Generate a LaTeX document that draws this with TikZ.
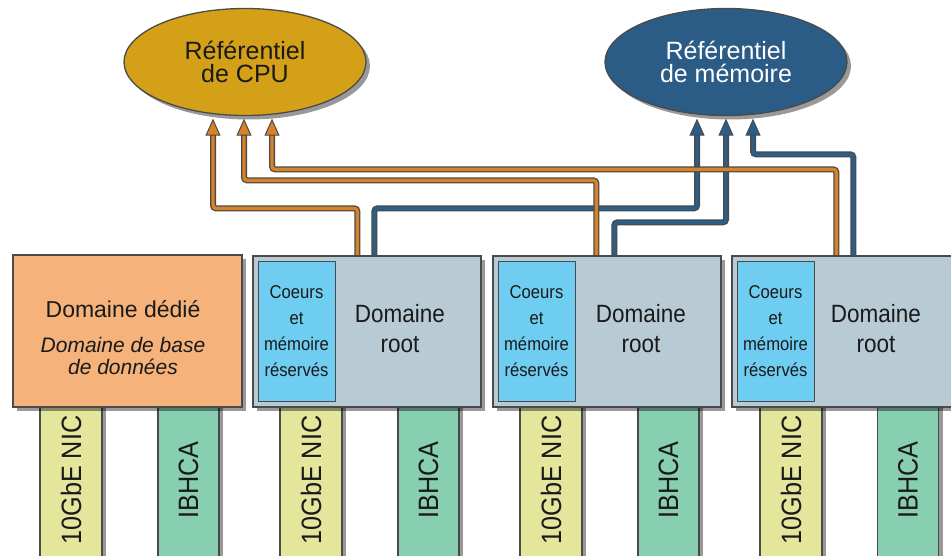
\documentclass[tikz,border=0pt]{standalone}
\usepackage{fontspec}
\setmainfont{Liberation Sans}
\newfontfamily\nfont[FakeStretch=0.9]{Liberation Sans}
\newfontfamily\wfont[FakeStretch=1.0]{Liberation Sans}
\usetikzlibrary{shapes.geometric,shadows,arrows.meta}
\definecolor{cpucol}{HTML}{D4A017}
\definecolor{memcol}{HTML}{2A5C86}
\definecolor{dedcol}{HTML}{F5B27A}
\definecolor{rootcol}{HTML}{B8CAD4}
\definecolor{innercol}{HTML}{6FCDF2}
\definecolor{niccol}{HTML}{E3E69B}
\definecolor{ibcol}{HTML}{88CFB1}
\definecolor{ocol}{HTML}{D88227}
\definecolor{bcol}{HTML}{2A5F8A}
\definecolor{edge}{HTML}{4A4A4A}
\definecolor{ink}{HTML}{1A1A1A}
\pgfdeclarelayer{bg}
\pgfsetlayers{bg,main}
\begin{document}
\begin{tikzpicture}[x=1pt,y=-1pt,text=ink,
  shad/.style={drop shadow={shadow xshift=4pt,shadow yshift=-4pt,fill=black,opacity=0.4}},
  refnode/.style={ellipse,draw=edge,line width=1.3pt,minimum width=242pt,minimum height=107pt,inner sep=0pt,align=center,font=\wfont\fontsize{25}{23}\selectfont,shad},
  boxnode/.style={rectangle,draw=edge,line width=1.3pt,minimum width=228pt,minimum height=151pt,inner sep=0pt,shad},
  innernode/.style={rectangle,draw=edge,fill=innercol,line width=1pt,minimum width=77pt,minimum height=139pt,inner sep=0pt,align=center,font=\nfont\fontsize{18.5}{26}\selectfont},
  rootlab/.style={align=center,inner sep=0pt,font=\nfont\fontsize{25}{30}\selectfont},
  strip/.style={rectangle,draw=edge,line width=1.2pt,minimum height=168pt,inner sep=0pt,font=\nfont\fontsize{28}{28}\selectfont,shad},
  nicstrip/.style={strip,fill=niccol,minimum width=62pt},
  ibstrip/.style={strip,fill=ibcol,minimum width=61pt},
  wireout/.style={draw=edge,line width=6pt,rounded corners=3pt,shorten >=15pt},
  wirein/.style={draw=#1,line width=3.4pt,rounded corners=3pt,-{Triangle[width=15pt,length=17pt,fill=#1,color=edge,line width=1pt]}}
]
\useasboundingbox (0,0) rectangle (951,556);

% repositories
\node[refnode,fill=cpucol] (cpu) at (245,62) {Référentiel\\de CPU};
\node[refnode,fill=memcol,text=white] (mem) at (726,62) {Référentiel\\de mémoire};

% domains
\node[boxnode,fill=dedcol,minimum width=229pt,minimum height=152pt] (b0) at (127.5,331) {};
\node[boxnode,fill=rootcol] (b1) at (367,331.5) {};
\node[boxnode,fill=rootcol] (b2) at (607,331.5) {};
\node[boxnode,fill=rootcol] (b3) at (846,331.5) {};

\node[align=center,inner sep=0pt,font=\fontsize{21}{22}\selectfont] (d0) at (123,338)
  {{\fontsize{23}{23}\selectfont Domaine dédié}\\[13pt]
   \textit{Domaine de base}\\
   \textit{de données}};

\node[innernode] (c1) at (296.5,331.5) {Coeurs\\et\\mémoire\\réservés};
\node[innernode] (c2) at (536.5,331.5) {Coeurs\\et\\mémoire\\réservés};
\node[innernode] (c3) at (775.5,331.5) {Coeurs\\et\\mémoire\\réservés};

\node[rootlab] (r1) at (400,329) {Domaine\\root};
\node[rootlab] (r2) at (641,329) {Domaine\\root};
\node[rootlab] (r3) at (876,329) {Domaine\\root};

\begin{pgfonlayer}{bg}
% adapters
\node[nicstrip] (n0) at (71,480) {\rotatebox{90}{10GbE NIC}};
\node[ibstrip] (i0) at (188.5,480) {\rotatebox{90}{IBHCA}};
\node[nicstrip] (n1) at (311,480) {\rotatebox{90}{10GbE NIC}};
\node[ibstrip] (i1) at (428.5,480) {\rotatebox{90}{IBHCA}};
\node[nicstrip] (n2) at (551,480) {\rotatebox{90}{10GbE NIC}};
\node[ibstrip] (i2) at (668.5,480) {\rotatebox{90}{IBHCA}};
\node[nicstrip] (n3) at (791,480) {\rotatebox{90}{10GbE NIC}};
\node[ibstrip] (i3) at (908,480) {\rotatebox{90}{IBHCA}};

% memory connectors (blue)
\draw[wireout] ([xshift=122pt]b1.north west) -- ++(0,-47) -| ([xshift=-29pt,yshift=-2.5pt]mem.south);
\draw[wirein=bcol] ([xshift=122pt]b1.north west) -- ++(0,-47) -| ([xshift=-29pt,yshift=-2.5pt]mem.south);
\draw[wireout] ([xshift=122pt]b2.north west) -- ++(0,-33) -| ([yshift=-2.5pt]mem.south);
\draw[wirein=bcol] ([xshift=122pt]b2.north west) -- ++(0,-33) -| ([yshift=-2.5pt]mem.south);
\draw[wireout] ([xshift=122pt]b3.north west) -- ++(0,-101) -| ([xshift=27pt,yshift=-2.5pt]mem.south);
\draw[wirein=bcol] ([xshift=122pt]b3.north west) -- ++(0,-101) -| ([xshift=27pt,yshift=-2.5pt]mem.south);

% CPU connectors (orange)
\draw[wireout] ([xshift=105pt]b1.north west) -- ++(0,-47) -| ([xshift=-32pt,yshift=-2.5pt]cpu.south);
\draw[wirein=ocol] ([xshift=105pt]b1.north west) -- ++(0,-47) -| ([xshift=-32pt,yshift=-2.5pt]cpu.south);
\draw[wireout] ([xshift=104pt]b2.north west) -- ++(0,-75) -| ([xshift=-1pt,yshift=-2.5pt]cpu.south);
\draw[wirein=ocol] ([xshift=104pt]b2.north west) -- ++(0,-75) -| ([xshift=-1pt,yshift=-2.5pt]cpu.south);
\draw[wireout] ([xshift=105pt]b3.north west) -- ++(0,-86) -| ([xshift=27pt,yshift=-2.5pt]cpu.south);
\draw[wirein=ocol] ([xshift=105pt]b3.north west) -- ++(0,-86) -| ([xshift=27pt,yshift=-2.5pt]cpu.south);
\end{pgfonlayer}
\end{tikzpicture}
\end{document}
